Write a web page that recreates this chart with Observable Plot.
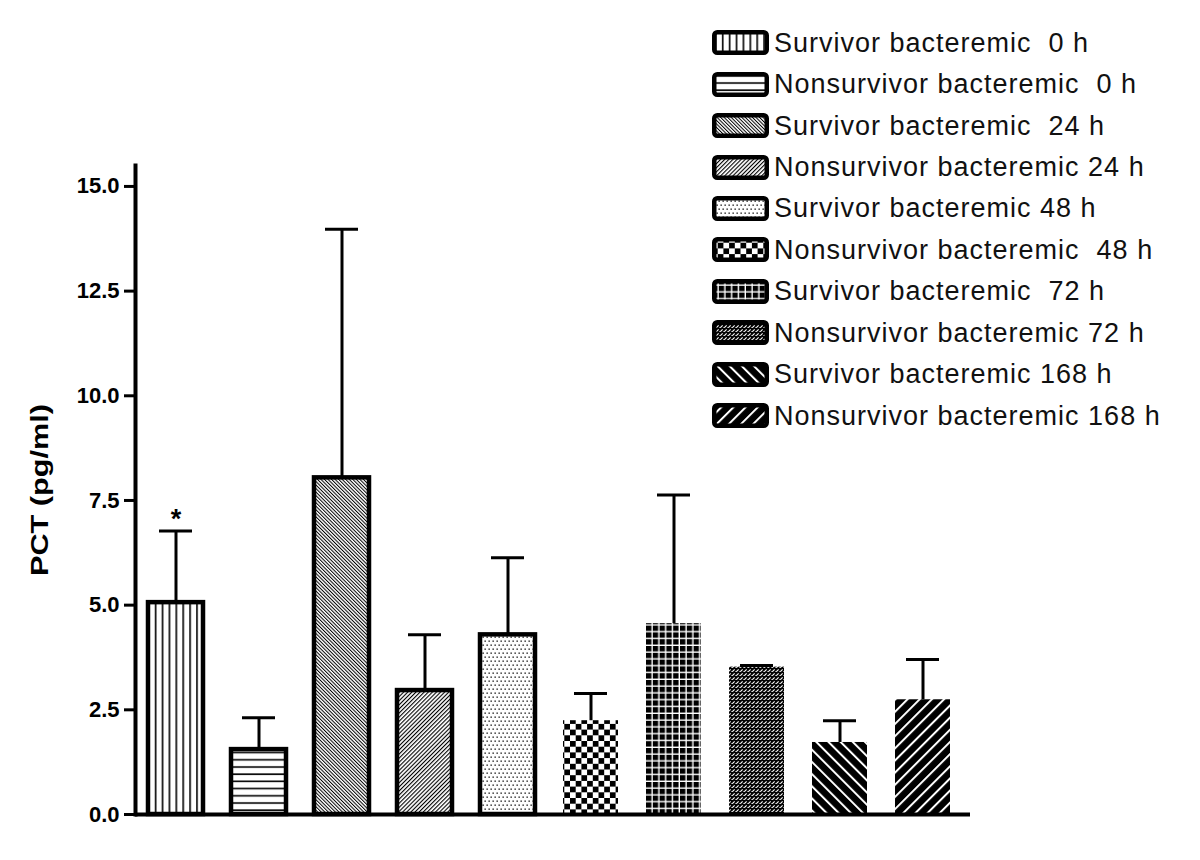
<!DOCTYPE html>
<html>
<head>
<meta charset="utf-8">
<script src="https://cdn.jsdelivr.net/npm/d3@7"></script>
<script src="https://cdn.jsdelivr.net/npm/@observablehq/plot@0.6"></script>
<style>
  html, body { margin: 0; padding: 0; background: #fff; }
  #wrap { position: relative; width: 1200px; height: 860px; font-family: "Liberation Sans", Arial, sans-serif; }
  #legend { position: absolute; left: 712px; top: 22px; }
  .row { display: flex; align-items: center; height: 41.45px; }
  .row svg { flex: none; display: block; }
  .row span { margin-left: 5px; font-size: 27px; letter-spacing: 1px; white-space: pre; color: #111; line-height: 26px; }
</style>
</head>
<body>
<div id="wrap"><div id="legend"></div></div>
<script>
// ---- data ----
const labels = [
  "Survivor bacteremic  0 h",
  "Nonsurvivor bacteremic  0 h",
  "Survivor bacteremic  24 h",
  "Nonsurvivor bacteremic 24 h",
  "Survivor bacteremic 48 h",
  "Nonsurvivor bacteremic  48 h",
  "Survivor bacteremic  72 h",
  "Nonsurvivor bacteremic 72 h",
  "Survivor bacteremic 168 h",
  "Nonsurvivor bacteremic 168 h"
];
const means = [5.06, 1.55, 8.04, 2.96, 4.29, 2.24, 4.56, 3.52, 1.72, 2.74];
const upper = [6.77, 2.31, 13.98, 4.29, 6.13, 2.89, 7.63, 3.56, 2.24, 3.70];
const stars = ["*", "", "", "", "", "", "", "", "", ""];
const outlined = [true, true, true, true, true, false, false, false, false, false];
const yTicks = [0, 2.5, 5, 7.5, 10, 12.5, 15];
const yTitle = "PCT (pg/ml)";

const data = labels.map((label, i) => ({label, mean: means[i], upper: upper[i], star: stars[i], outlined: outlined[i]}));
const patternIds = labels.map((d, i) => `pat${i}`);

// ---- patterns ----
const patternDefs = `
<pattern id="pat0" patternUnits="userSpaceOnUse" width="6.9" height="10">
  <rect width="6.9" height="10" fill="#fff"/><rect x="3" y="0" width="1.6" height="10" fill="#000"/></pattern>
<pattern id="pat1" patternUnits="userSpaceOnUse" width="10" height="7.2">
  <rect width="10" height="7.2" fill="#fff"/><rect x="0" y="3" width="10" height="1.6" fill="#000"/></pattern>
<pattern id="pat2" patternUnits="userSpaceOnUse" width="2.5" height="10" patternTransform="rotate(-45)">
  <rect width="2.5" height="10" fill="#fff"/><rect x="0" y="0" width="1" height="10" fill="#000"/></pattern>
<pattern id="pat3" patternUnits="userSpaceOnUse" width="2.9" height="10" patternTransform="rotate(45)">
  <rect width="2.9" height="10" fill="#fff"/><rect x="0" y="0" width="1.1" height="10" fill="#000"/></pattern>
<pattern id="pat4" patternUnits="userSpaceOnUse" width="4" height="8">
  <rect width="4" height="8" fill="#fff"/><rect x="0.5" y="0.5" width="1.3" height="1.3" fill="#000"/><rect x="2.5" y="4.5" width="1.3" height="1.3" fill="#000"/></pattern>
<pattern id="pat5" patternUnits="userSpaceOnUse" width="11.4" height="11.4">
  <rect width="11.4" height="11.4" fill="#fff"/><rect width="5.7" height="5.7" fill="#000"/><rect x="5.7" y="5.7" width="5.7" height="5.7" fill="#000"/></pattern>
<pattern id="pat6" patternUnits="userSpaceOnUse" width="6.8" height="6.8">
  <rect width="6.8" height="6.8" fill="#fff"/><rect width="5.4" height="5.4" fill="#000"/></pattern>
<pattern id="pat7" patternUnits="userSpaceOnUse" width="4" height="4">
  <rect width="4" height="4" fill="#000"/><path d="M0.2,3.8L2.6,1.4" stroke="#fff" stroke-width="1.1"/><rect x="3" y="3" width="1" height="1" fill="#888"/></pattern>
<pattern id="pat8" patternUnits="userSpaceOnUse" width="8.6" height="10" patternTransform="rotate(-45)">
  <rect width="8.6" height="10" fill="#000"/><rect x="0" y="0" width="2" height="10" fill="#fff"/></pattern>
<pattern id="pat9" patternUnits="userSpaceOnUse" width="8.6" height="10" patternTransform="rotate(45)">
  <rect width="8.6" height="10" fill="#000"/><rect x="0" y="0" width="2" height="10" fill="#fff"/></pattern>
`;

// ---- chart ----
const chart = Plot.plot({
  width: 1200,
  height: 860,
  marginLeft: 135,
  marginRight: 230,
  marginTop: 165,
  marginBottom: 46,
  style: {fontFamily: "'Liberation Sans', Arial, sans-serif", background: "#fff", color: "#000"},
  x: {domain: labels, axis: null, paddingInner: 0.338, paddingOuter: 0.196, align: 0.4},
  y: {domain: [0, 15.5], axis: null},
  color: {domain: labels, range: patternIds.map(id => `url(#${id})`)},
  marks: [
    Plot.barY(data, {x: "label", y: "mean", fill: "label"}),
    Plot.barY(data.filter(d => d.outlined), {x: "label", y: "mean", fill: "none", stroke: "#000", strokeWidth: 4.5}),
    Plot.ruleX(data, {x: "label", y1: "mean", y2: "upper", stroke: "#000", strokeWidth: 3}),
    Plot.tickY(data, {x: "label", y: "upper", stroke: "#000", strokeWidth: 3, inset: 11}),
    Plot.text(data, {x: "label", y: "upper", text: "star", dy: -12, fontSize: 27, fontWeight: "bold", fill: "#000"}),
    Plot.ruleY([0], {stroke: "#000", strokeWidth: 4}),
    Plot.frame({anchor: "left", stroke: "#000", strokeWidth: 4}),
    Plot.axisY(yTicks, {tickFormat: d3.format(".1f"), tickSize: 11, tickPadding: 5, strokeWidth: 3, fontSize: 22, fontWeight: "bold", fill: "#000", stroke: "#000", label: null}),
    Plot.text([yTitle], {frameAnchor: "left", dx: -95, rotate: -90, fontSize: 24, fontWeight: "bold", fill: "#000", textAnchor: "middle", lineAnchor: "middle"})
  ]
});

const defs = document.createElementNS("http://www.w3.org/2000/svg", "defs");
defs.innerHTML = patternDefs;
chart.insertBefore(defs, chart.firstChild);

// stretch y-axis title to the reference length
d3.select(chart).selectAll("text").filter(function() { return this.textContent === yTitle; })
  .attr("textLength", 172).attr("lengthAdjust", "spacingAndGlyphs");

const wrap = document.getElementById("wrap");
wrap.insertBefore(chart, wrap.firstChild);

// ---- legend ----
const legend = d3.select("#legend");
labels.forEach((label, i) => {
  const row = legend.append("div").attr("class", "row");
  const sw = row.append("svg").attr("width", 57).attr("height", 25);
  sw.append("rect").attr("x", 2.25).attr("y", 2.25).attr("width", 52.5).attr("height", 20.5)
    .attr("rx", 3).attr("fill", `url(#${patternIds[i]})`).attr("stroke", "#000").attr("stroke-width", 4.5);
  row.append("span").text(label);
});
</script>
</body>
</html>
